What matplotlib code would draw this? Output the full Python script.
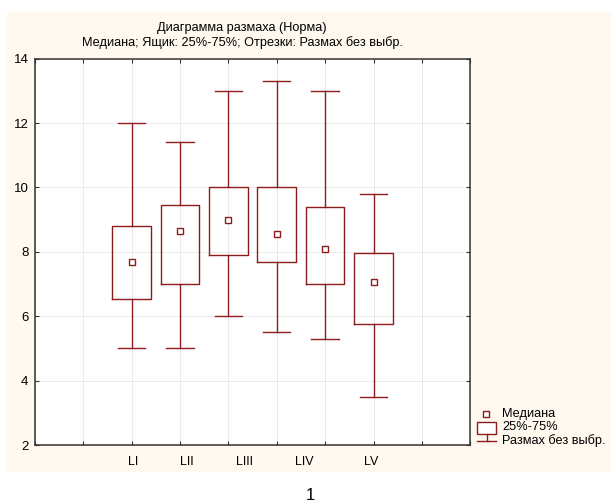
import matplotlib
matplotlib.use("Agg")
import matplotlib.pyplot as plt
from matplotlib.patches import Rectangle
from matplotlib.lines import Line2D

plt.rcParams['font.family'] = ['Liberation Sans', 'DejaVu Sans']

# ---- data ----
categories = ["LI", "LII", "LIII", "LIV", "LV"]
label_positions = [2.03, 3.15, 4.33, 5.57, 6.95]
box_positions = [2, 3, 4, 5, 6, 7]
medians = [7.7, 8.65, 9.0, 8.55, 8.1, 7.05]
q1 = [6.55, 7.0, 7.9, 7.7, 7.0, 5.75]
q3 = [8.8, 9.45, 10.0, 10.0, 9.4, 7.95]
whisker_low = [5.0, 5.0, 6.0, 5.5, 5.3, 3.5]
whisker_high = [12.0, 11.4, 13.0, 13.3, 13.0, 9.8]
y_ticks = [2, 4, 6, 8, 10, 12, 14]
x_ticks = list(range(10))
title = "Диаграмма размаха (Норма)\nМедиана; Ящик: 25%-75%; Отрезки: Размах без выбр."
legend_labels = ["Медиана", "25%-75%", "Размах без выбр."]

W, H = 611, 504
RED = '#8b1c1c'
CREAM = '#fff9ef'

fig = plt.figure(figsize=(W / 100, H / 100), dpi=100)


def fx(px):
    return px / W


def fy(py):
    return 1 - py / H


# cream panel
fig.patches.append(Rectangle((fx(7.3), fy(471.7)), fx(611) - fx(7.3), fy(11.7) - fy(471.7),
                             transform=fig.transFigure, facecolor=CREAM, edgecolor='none', zorder=0))

left, right, top, bottom = 34.7, 470.3, 58.7, 445.0
ax = fig.add_axes([fx(left), fy(bottom), fx(right) - fx(left), fy(top) - fy(bottom)])
ax.set_facecolor('white')
ax.set_zorder(1)

stats = []
for i in range(len(box_positions)):
    stats.append(dict(med=medians[i], q1=q1[i], q3=q3[i],
                      whislo=whisker_low[i], whishi=whisker_high[i], fliers=[]))

lw = 1.0
ax.bxp(stats, positions=box_positions, widths=0.8, capwidths=0.57, showfliers=False,
       boxprops=dict(color=RED, linewidth=lw),
       whiskerprops=dict(color=RED, linewidth=lw),
       capprops=dict(color=RED, linewidth=lw),
       medianprops=dict(linewidth=0),
       manage_ticks=False, zorder=3)
ax.plot(box_positions, medians, linestyle='none', marker='s', markersize=4.2,
        markerfacecolor='white', markeredgecolor=RED, markeredgewidth=1.0, zorder=4)

ax.set_xlim(0, 9)
ax.set_ylim(2, 14)
ax.xaxis.remove_overlapping_locs = False
ax.set_xticks(x_ticks)
ax.set_xticklabels([])
ax.set_xticks(label_positions, categories, minor=True)
ax.set_yticks(y_ticks)
ax.set_yticklabels([str(v) for v in y_ticks])
ax.tick_params(which='major', direction='in', length=3, width=0.8, color='#333333',
               top=True, right=True, labelsize=9.5, pad=4.5)
ax.tick_params(axis='x', which='minor', length=0, labelsize=9, pad=8)
ax.grid(True, which='major', color='#e6e6e6', linewidth=0.6, linestyle='-')
ax.set_axisbelow(True)
for s in ax.spines.values():
    s.set_color('#333333')
    s.set_linewidth(1.1)

fig.text(fx(242), fy(35.5), title, ha='center', va='center', fontsize=9.2, linespacing=1.3)

# legend glyphs
fig.add_artist(Line2D([fx(485.7)], [fy(414)], marker='s', markersize=4.2, markerfacecolor='white',
                      markeredgecolor=RED, markeredgewidth=1.0, linestyle='none', transform=fig.transFigure))
fig.add_artist(Rectangle((fx(477.3), fy(434.3)), fx(496) - fx(477.3), fy(421.7) - fy(434.3),
                         transform=fig.transFigure, facecolor='white', edgecolor=RED, linewidth=1.0))
fig.add_artist(Line2D([fx(486.5), fx(486.5)], [fy(434.3), fy(440.7)], color=RED, linewidth=1.0,
                      transform=fig.transFigure))
fig.add_artist(Line2D([fx(477.3), fx(496)], [fy(440.7), fy(440.7)], color=RED, linewidth=1.0,
                      transform=fig.transFigure))
for lab, yy in zip(legend_labels, [414, 427.5, 440.5]):
    fig.text(fx(502), fy(yy), lab, ha='left', va='center', fontsize=9.2)

fig.text(fx(310.7), fy(488), "1", ha='center', va='top', fontsize=12)

fig.savefig("out.png", dpi=100)
